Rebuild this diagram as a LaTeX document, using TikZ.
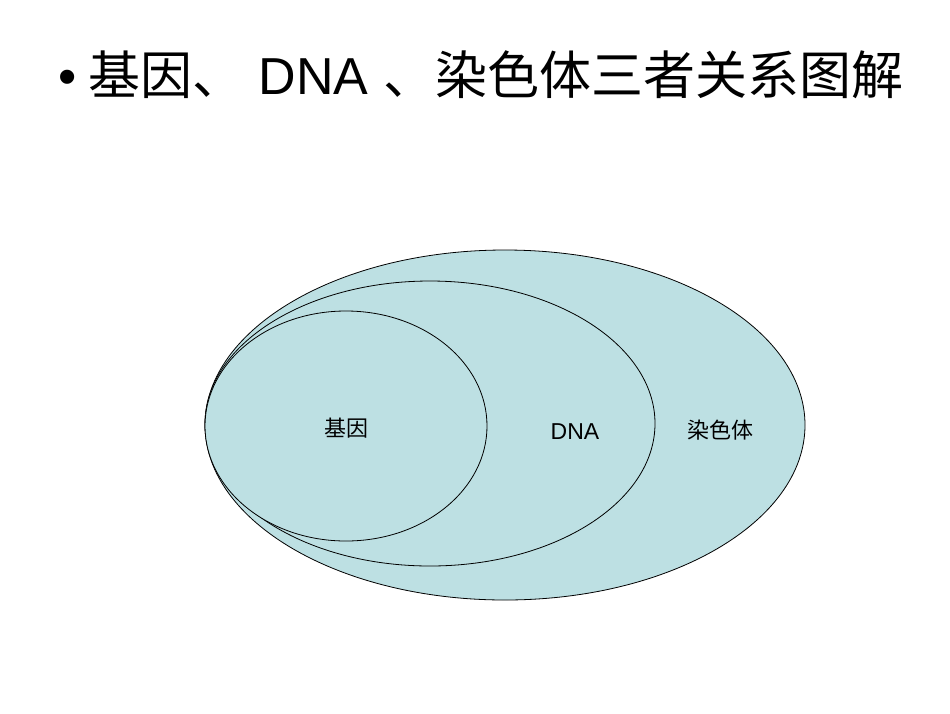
\documentclass[tikz,border=0pt]{standalone}
\usepackage{fontspec}
\setmainfont{Liberation Sans}
\newfontfamily\cjk{Noto Sans CJK SC}
\begin{document}
\begin{tikzpicture}[x=1pt,y=-1pt,
  ell/.style={draw=black,fill=cellfill,line width=0.8pt},
  lbl/.style={font=\fontsize{22}{26}\selectfont,inner sep=0pt}]
\definecolor{cellfill}{HTML}{BDE0E3}
\useasboundingbox (0,0) rectangle (950,713);
\node[anchor=west,inner sep=0pt,font=\fontsize{52}{58}\selectfont] (title) at (58,75)
  {•\hspace{12pt}{\cjk 基因、} DNA {\cjk 、染色体三者关系图解}};
\draw[ell] (505,425) ellipse [x radius=300,y radius=175];
\draw[ell] (430,423.5) ellipse [x radius=225,y radius=142.5];
\draw[ell] (346,426) ellipse [x radius=141,y radius=115];
\node[lbl] (gene) at (346,428) {\cjk 基因};
\node[lbl,font=\fontsize{23}{27}\selectfont] (dna) at (575,432) {DNA};
\node[lbl] (chrom) at (720,430) {\cjk 染色体};
\end{tikzpicture}
\end{document}
